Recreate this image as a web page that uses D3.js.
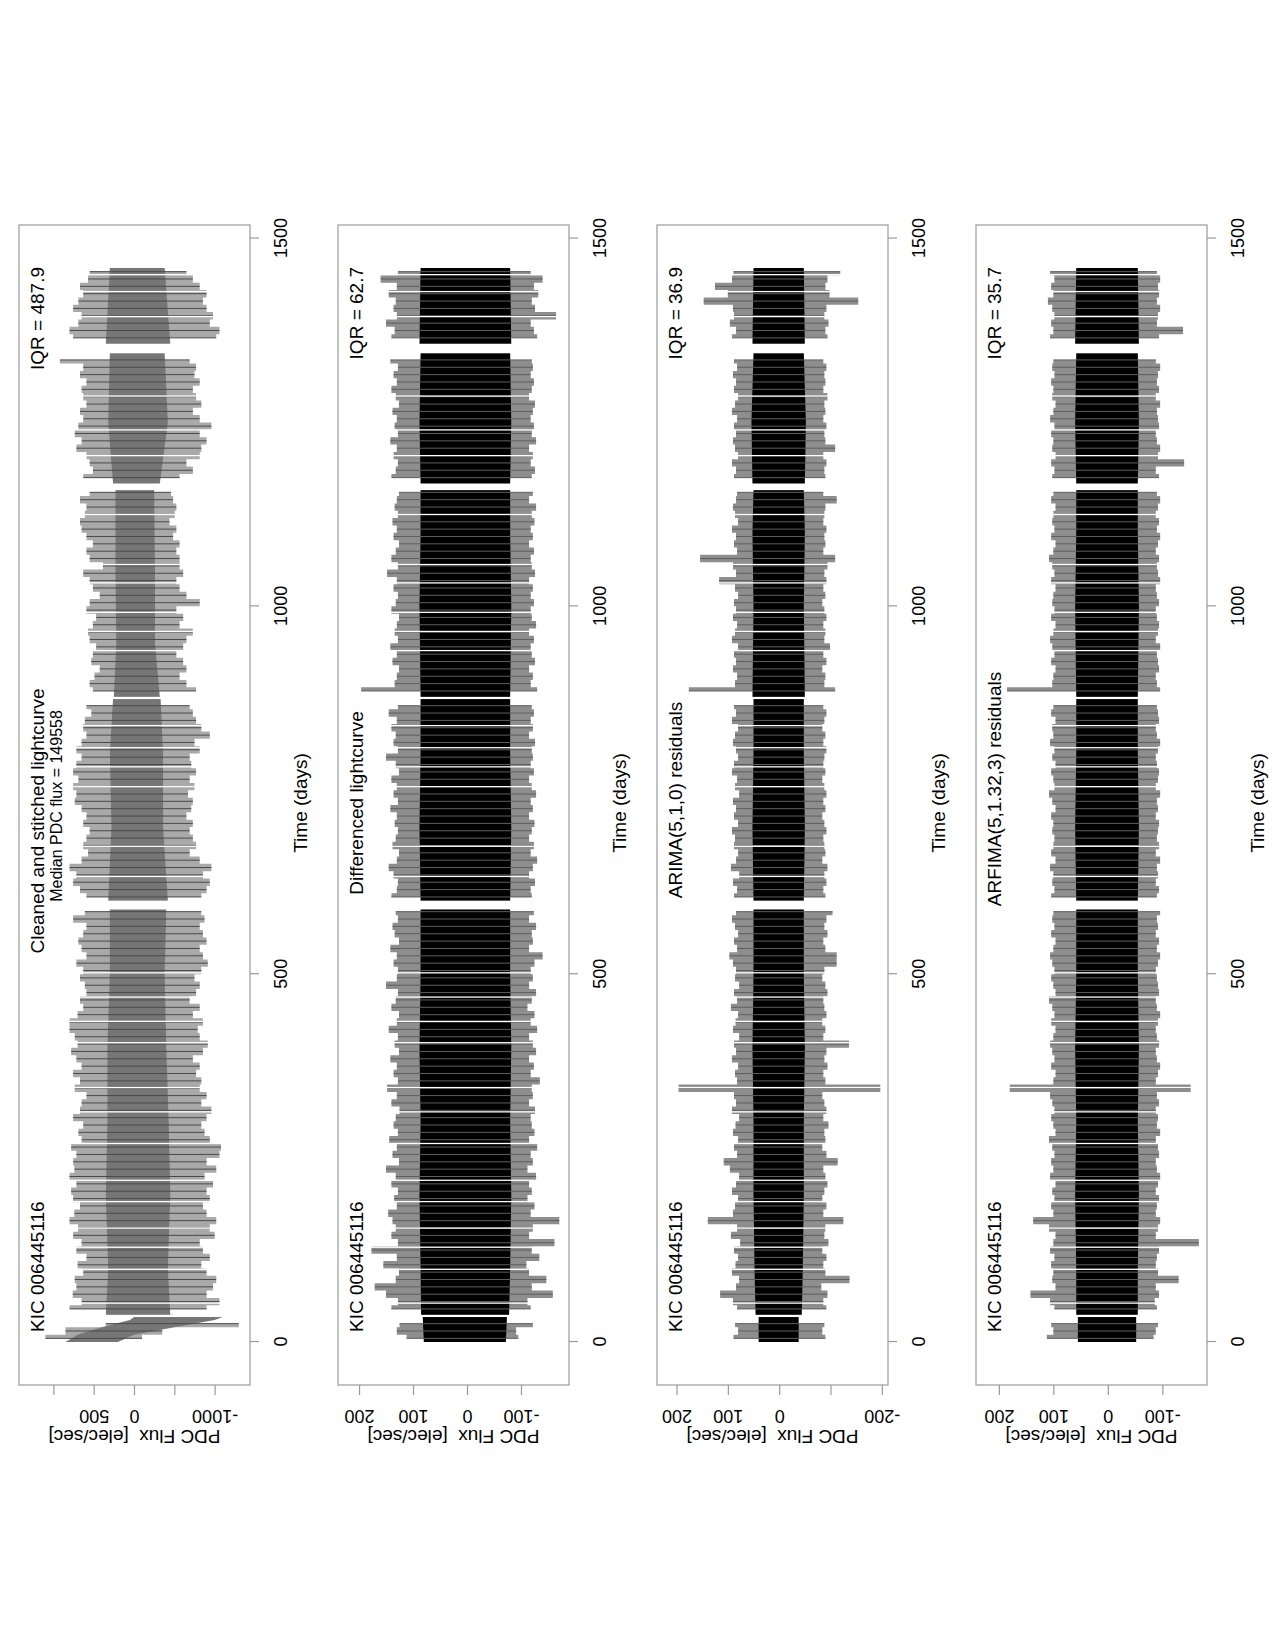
<!DOCTYPE html>
<html>
<head>
<meta charset="utf-8">
<script src="https://cdn.jsdelivr.net/npm/d3@7"></script>
<style>
  body { margin: 0; background: #fff; }
  svg text { font-family: "Liberation Sans", Arial, sans-serif; fill: #000; }
</style>
</head>
<body>
<svg id="chart" width="1275" height="1650"></svg>
<script>
// ---- data ----
// 10-day bins (bin centre in days); null = bin falls in a data gap
var binT = d3.range(5, 1460, 10);

// gaps in the time series (days)
var gapStart = [34, 52, 98, 128, 154, 190, 219, 269, 312, 345, 406, 435, 468, 501, 588, 632, 673, 754, 781, 807, 837, 874, 939, 965, 991, 1031, 1056, 1124, 1158, 1204, 1239, 1285, 1344, 1393, 1427, 1450];
var gapEnd   = [37, 53, 99, 129, 155, 191, 220, 270, 313, 346, 407, 436, 469, 502, 600, 633, 674, 755, 782, 808, 838, 877, 940, 966, 992, 1032, 1057, 1125, 1167, 1205, 1240, 1286, 1357, 1394, 1428, 1451];

// core (dense) band, sampled at these times
var coreT = [0, 34, 37, 100, 200, 300, 400, 500, 588, 600, 700, 800, 874, 877, 1000, 1100, 1158, 1167, 1250, 1344, 1357, 1460];

// panel 1 : cleaned and stitched lightcurve
var p1Hi = [1100, 850, 350, null, 800, 650, 760, 715, 735, 630,
  700, 590, 715, 650, 755, 695, 800, 740, 670, 755,
  780, 715, 800, 740, 755, 715, 780, 650, 690, 630,
  755, 670, 650, 590, 735, 670, 755, 650, 715, 780,
  700, 735, 800, 800, 700, 630, 670, 590, 610, 670,
  630, 715, 590, 650, 690, 630, 590, 755, 610, null,
  590, 670, 755, 715, 800, 650, 570, 630, 590, 550,
  630, 590, 650, 735, 715, 755, 690, 755, 715, 650,
  715, 650, 590, 630, 610, 530, 590, null, 510, 550,
  490, 425, 530, 510, 470, 550, 570, 510, 470, 590,
  550, 425, 510, 550, 630, 385, 550, 590, 510, 590,
  650, 670, 610, 590, 670, 550, null, 630, 510, 550,
  590, 715, 650, 735, 690, 630, 670, 590, 630, 650,
  590, 670, 630, 920, null, null, 755, 800, 690, 650,
  755, 690, 630, 670, 570, 550];
var p1Lo = [-100, -350, -1300, null, -900, -1060, -900, -980, -1020, -900,
  -835, -940, -855, -815, -1000, -940, -1020, -900, -855, -940,
  -900, -980, -875, -1020, -900, -1060, -1080, -940, -875, -835,
  -900, -960, -835, -900, -815, -835, -770, -815, -730, -855,
  -915, -815, -790, -855, -730, -815, -690, -770, -815, -750,
  -835, -915, -855, -815, -900, -855, -815, -875, -835, null,
  -835, -900, -940, -855, -960, -815, -690, -770, -730, -690,
  -730, -650, -710, -730, -670, -750, -690, -770, -710, -690,
  -815, -750, -940, -835, -770, -730, -690, null, -770, -650,
  -565, -650, -610, -525, -610, -650, -730, -565, -610, -525,
  -815, -650, -565, -525, -610, -565, -565, -525, -565, -485,
  -525, -440, -505, -525, -485, -460, null, -565, -730, -650,
  -815, -835, -900, -815, -960, -815, -730, -835, -770, -730,
  -815, -750, -770, -690, null, null, -1020, -1060, -940, -980,
  -900, -855, -900, -815, -730, -650];
var p1CoreT = [0, 10, 20, 30, 34, 37, 100, 200, 300, 400, 500, 588, 600, 700, 800, 874, 877, 950, 1050, 1158, 1167, 1250, 1344, 1357, 1460];
var p1CoreHi = [850, 700, 400, 50, 0, 350, 320, 350, 330, 330, 300, 300, 320, 280, 300, 260, 250, 220, 230, 230, 260, 320, 300, 350, 300];
var p1CoreLo = [200, 0, -500, -1000, -1100, -450, -420, -450, -430, -400, -380, -400, -420, -360, -360, -330, -320, -260, -260, -250, -320, -420, -380, -450, -380];

// panel 2 : differenced lightcurve
var p2Hi = [112, 130, 125, null, 140, 128, 150, 171, 132, 126,
  155, 130, 177, 128, 140, 132, 138, 146, 130, 135,
  128, 140, 132, 150, 126, 138, 130, 144, 128, 136,
  132, 125, 140, 130, 148, 128, 136, 130, 142, 126,
  134, 128, 145, 130, 126, 140, 132, 128, 150, 130,
  128, 136, 130, 142, 126, 134, 138, 128, 132, null,
  140, 130, 128, 136, 145, 130, 126, 138, 132, 128,
  134, 130, 142, 128, 136, 130, 140, 126, 132, 150,
  128, 136, 132, 140, 130, 145, 128, null, 196, 134,
  130, 126, 138, 130, 142, 128, 134, 130, 126, 140,
  132, 128, 136, 130, 148, 128, 140, 132, 126, 136,
  130, 138, 128, 134, 130, 126, null, 140, 132, 128,
  136, 130, 142, 128, 134, 130, 138, 126, 132, 140,
  130, 136, 128, 142, null, null, 140, 134, 150, 130,
  136, 132, 145, 130, 160, 128];
var p2Lo = [-95, -91, -122, null, -118, -112, -159, -120, -147, -115,
  -110, -134, -120, -162, -115, -122, -171, -118, -125, -112,
  -120, -115, -128, -112, -122, -118, -130, -115, -125, -120,
  -118, -126, -115, -122, -120, -135, -118, -124, -115, -128,
  -122, -115, -130, -118, -125, -112, -120, -128, -115, -122,
  -118, -125, -140, -115, -122, -120, -128, -115, -124, null,
  -120, -118, -126, -115, -122, -130, -118, -124, -115, -120,
  -125, -115, -122, -118, -128, -120, -115, -124, -118, -122,
  -120, -126, -115, -122, -118, -124, -120, null, -130, -118,
  -122, -115, -126, -120, -118, -124, -115, -128, -120, -118,
  -124, -118, -122, -115, -126, -120, -118, -124, -115, -122,
  -118, -125, -120, -128, -115, -122, null, -120, -126, -118,
  -122, -115, -128, -120, -124, -118, -122, -126, -115, -120,
  -124, -118, -122, -120, null, null, -130, -124, -118, -165,
  -126, -120, -132, -124, -140, -118];
var p2CoreHi = [80, 82, 85, 86, 88, 86, 88, 86, 86, 86, 88, 86, 86, 86, 88, 86, 86, 86, 88, 86, 88, 86];
var p2CoreLo = [-72, -74, -78, -80, -82, -80, -82, -80, -80, -80, -82, -80, -80, -80, -82, -80, -80, -80, -82, -80, -82, -80];

// panel 3 : ARIMA(5,1,0) residuals
var p3Hi = [89, 80, 86, null, 82, 90, 115, 84, 78, 92,
  85, 80, 88, 76, 94, 82, 139, 90, 86, 80,
  92, 84, 78, 96, 108, 82, 88, 80, 90, 85,
  78, 92, 84, 88, 196, 82, 86, 80, 92, 84,
  88, 78, 90, 85, 80, 94, 82, 88, 78, 86,
  84, 90, 97, 82, 88, 80, 86, 92, 84, null,
  88, 82, 90, 78, 94, 84, 80, 88, 86, 92,
  80, 88, 84, 90, 78, 86, 82, 92, 88, 80,
  84, 90, 86, 80, 92, 84, 88, null, 176, 86,
  82, 90, 84, 88, 80, 92, 86, 82, 90, 84,
  88, 80, 86, 117, 84, 90, 154, 82, 88, 84,
  92, 80, 86, 90, 84, 82, null, 88, 84, 92,
  80, 86, 90, 84, 88, 82, 92, 86, 80, 88,
  84, 90, 82, 88, null, null, 92, 84, 96, 88,
  90, 147, 100, 125, 92, 89];
var p3Lo = [-90, -84, -88, null, -92, -86, -94, -82, -137, -90,
  -86, -92, -84, -96, -88, -90, -125, -86, -92, -84,
  -88, -94, -90, -86, -114, -92, -84, -90, -88, -96,
  -86, -92, -88, -84, -197, -90, -86, -94, -88, -92,
  -136, -86, -90, -84, -92, -88, -86, -94, -90, -84,
  -88, -112, -112, -90, -86, -94, -88, -92, -104, null,
  -90, -86, -92, -88, -94, -84, -90, -88, -86, -92,
  -88, -84, -90, -86, -92, -88, -84, -90, -86, -88,
  -92, -86, -90, -84, -88, -92, -86, null, -109, -88,
  -90, -84, -92, -86, -99, -88, -90, -86, -92, -88,
  -84, -90, -86, -92, -88, -94, -109, -86, -90, -88,
  -92, -86, -88, -90, -112, -86, null, -90, -88, -92,
  -86, -109, -90, -88, -92, -86, -90, -88, -94, -86,
  -90, -88, -92, -86, null, null, -94, -90, -96, -88,
  -92, -154, -98, -90, -94, -119];
var p3CoreHi = [40, 40, 46, 48, 50, 50, 52, 50, 50, 50, 52, 50, 50, 52, 50, 52, 50, 52, 54, 50, 52, 50];
var p3CoreLo = [-38, -38, -44, -46, -48, -48, -50, -48, -48, -48, -50, -48, -48, -50, -48, -50, -48, -50, -52, -48, -50, -48];

// panel 4 : ARFIMA(5,1.32,3) residuals
var p4Hi = [112, 100, 104, null, 98, 106, 142, 96, 102, 100,
  104, 98, 106, 100, 96, 108, 137, 100, 104, 98,
  102, 96, 106, 100, 104, 98, 102, 108, 96, 100,
  104, 98, 102, 106, 180, 100, 96, 104, 98, 102,
  106, 100, 96, 104, 98, 102, 108, 96, 100, 104,
  98, 102, 106, 100, 96, 104, 98, 102, 100, null,
  104, 98, 102, 100, 106, 96, 104, 100, 98, 102,
  100, 104, 96, 102, 108, 98, 100, 104, 96, 102,
  98, 106, 100, 102, 96, 104, 100, null, 185, 102,
  100, 96, 104, 98, 102, 106, 100, 96, 104, 98,
  102, 100, 96, 104, 98, 102, 108, 100, 96, 104,
  98, 102, 100, 96, 104, 100, null, 102, 98, 104,
  96, 102, 100, 104, 98, 106, 100, 96, 102, 100,
  104, 98, 102, 100, null, null, 106, 100, 104, 98,
  102, 110, 100, 104, 98, 106];
var p4Lo = [-84, -88, -92, null, -90, -86, -94, -88, -130, -92,
  -88, -90, -94, -167, -88, -92, -96, -88, -90, -94,
  -88, -92, -96, -90, -88, -94, -92, -88, -96, -90,
  -92, -88, -94, -90, -152, -88, -92, -96, -90, -88,
  -94, -90, -88, -92, -96, -90, -88, -94, -92, -90,
  -88, -92, -96, -90, -94, -88, -92, -90, -96, null,
  -90, -94, -88, -92, -90, -96, -88, -94, -90, -92,
  -94, -88, -92, -90, -96, -88, -92, -94, -90, -88,
  -92, -96, -90, -88, -94, -92, -90, null, -96, -90,
  -88, -94, -92, -90, -96, -88, -92, -94, -90, -88,
  -94, -90, -88, -96, -92, -90, -94, -88, -92, -96,
  -90, -94, -88, -92, -96, -90, null, -94, -88, -140,
  -92, -96, -90, -88, -94, -92, -90, -96, -88, -94,
  -90, -92, -96, -88, null, null, -94, -138, -90, -92,
  -96, -90, -94, -92, -96, -90];
var p4CoreHi = [55, 55, 58, 58, 60, 58, 60, 58, 58, 58, 60, 58, 58, 58, 60, 58, 58, 58, 60, 58, 60, 58];
var p4CoreLo = [-52, -52, -55, -55, -57, -55, -57, -55, -55, -55, -57, -55, -55, -55, -57, -55, -55, -55, -57, -55, -57, -55];

// axis ticks and labels
var timeTicks = [0, 500, 1000, 1500];
var p1Ticks = [1000, 500, 0, -500, -1000];
var p1TickLabels = ["", "500", "0", "", "-1000"];
var p2Ticks = [200, 100, 0, -100];
var p2TickLabels = ["200", "100", "0", "-100"];
var p3Ticks = [200, 100, 0, -100, -200];
var p3TickLabels = ["200", "100", "0", "", "-200"];
var p4Ticks = [200, 100, 0, -100];
var p4TickLabels = ["200", "100", "0", "-100"];

var ctx = {
    boxBottom: 1385,
    W: 1160,   // box length along time (drawn vertically on the page)
    H: 231,    // box depth along flux
    BOX: "#9a9a9a",
    FONT: "Liberation Sans, Arial, sans-serif"
};

var panels = [
    { left: 19, hi: p1Hi, lo: p1Lo, coreT: p1CoreT, coreHi: p1CoreHi, coreLo: p1CoreLo,
      domain: [-1439, 1427], ticks: p1Ticks, labels: p1TickLabels,
      title: "Cleaned and stitched lightcurve", sub: "Median PDC flux = 149558", titleU: 564,
      iqr: "IQR = 487.9", envFill: "#a9a9a9", coreFill: "#767676", spike: "#4a4a4a" },
    { left: 338, hi: p2Hi, lo: p2Lo, coreT: coreT, coreHi: p2CoreHi, coreLo: p2CoreLo,
      domain: [-189, 239], ticks: p2Ticks, labels: p2TickLabels,
      title: "Differenced lightcurve", titleU: 582,
      iqr: "IQR = 62.7", envFill: "#8e8e8e", coreFill: "#000", spike: "#5e5e5e" },
    { left: 657, hi: p3Hi, lo: p3Lo, coreT: coreT, coreHi: p3CoreHi, coreLo: p3CoreLo,
      domain: [-212, 238], ticks: p3Ticks, labels: p3TickLabels,
      title: "ARIMA(5,1,0) residuals", titleU: 585,
      iqr: "IQR = 36.9", envFill: "#8e8e8e", coreFill: "#000", spike: "#5e5e5e" },
    { left: 976, hi: p4Hi, lo: p4Lo, coreT: coreT, coreHi: p4CoreHi, coreLo: p4CoreLo,
      domain: [-182, 242], ticks: p4Ticks, labels: p4TickLabels,
      title: "ARFIMA(5,1.32,3) residuals", titleU: 596,
      iqr: "IQR = 35.7", envFill: "#8e8e8e", coreFill: "#000", spike: "#5e5e5e" }
];

var svg = d3.select("#chart");

// time runs along the local x, the whole plot is turned a quarter turn
var timeScale = d3.scaleLinear().domain([-58.4, 1518.4]).range([0, ctx.W]);

panels.forEach(function(p) {
    var g = svg.append("g")
        .attr("transform", "translate(" + p.left + "," + ctx.boxBottom + ") rotate(-90)");
    var fluxScale = d3.scaleLinear().domain(p.domain).range([ctx.H, 0]);

    var bins = binT.map(function(t, i) { return { t: t, hi: p.hi[i], lo: p.lo[i] }; });
    var core = p.coreT.map(function(t, i) { return { t: t, hi: p.coreHi[i], lo: p.coreLo[i] }; });

    var dataG = g.append("g");

    // outer envelope, stepped so each bin reads as a run of strokes
    dataG.append("path")
        .datum(bins)
        .attr("fill", p.envFill)
        .attr("d", d3.area()
            .defined(function(d) { return d.hi != null; })
            .curve(d3.curveStep)
            .x(function(d) { return timeScale(d.t); })
            .y0(function(d) { return fluxScale(d.lo); })
            .y1(function(d) { return fluxScale(d.hi); }));

    // dense core
    dataG.append("path")
        .datum(core)
        .attr("fill", p.coreFill)
        .attr("d", d3.area()
            .x(function(d) { return timeScale(d.t); })
            .y0(function(d) { return fluxScale(d.lo); })
            .y1(function(d) { return fluxScale(d.hi); }));

    // spikes
    dataG.selectAll("line.spike")
        .data(bins.filter(function(d) { return d.hi != null; }))
        .enter()
        .append("line")
        .attr("class", "spike")
        .attr("x1", function(d) { return timeScale(d.t); })
        .attr("x2", function(d) { return timeScale(d.t); })
        .attr("y1", function(d) { return fluxScale(d.lo); })
        .attr("y2", function(d) { return fluxScale(d.hi); })
        .attr("stroke", p.spike)
        .attr("stroke-width", 1);

    // data gaps
    dataG.selectAll("rect.gap")
        .data(gapStart)
        .enter()
        .append("rect")
        .attr("class", "gap")
        .attr("x", function(d) { return timeScale(d); })
        .attr("width", function(d, i) { return Math.max(timeScale(gapEnd[i]) - timeScale(d), 1.3); })
        .attr("y", 1)
        .attr("height", ctx.H - 2)
        .attr("fill", "#fff");

    // box
    g.append("rect")
        .attr("x", 0).attr("y", 0)
        .attr("width", ctx.W).attr("height", ctx.H)
        .attr("fill", "none")
        .attr("stroke", ctx.BOX)
        .attr("stroke-width", 1.2);

    // time axis
    var tAxis = g.append("g")
        .attr("transform", "translate(0," + ctx.H + ")")
        .call(d3.axisBottom(timeScale).tickValues(timeTicks).tickSize(9).tickPadding(15)
            .tickFormat(d3.format("d")));
    tAxis.select(".domain").remove();
    tAxis.selectAll("line").attr("stroke", ctx.BOX).attr("stroke-width", 1.2);
    tAxis.selectAll("text").attr("font-size", "18px").style("font-family", ctx.FONT);

    // flux axis, labels parallel to the axis
    var fAxis = g.append("g")
        .call(d3.axisLeft(fluxScale).tickValues(p.ticks).tickSize(10)
            .tickFormat(function(d, i) { return p.labels[i]; }));
    fAxis.select(".domain").remove();
    fAxis.selectAll("line").attr("stroke", ctx.BOX).attr("stroke-width", 1.2);
    fAxis.selectAll("text")
        .attr("x", null).attr("dy", null)
        .attr("text-anchor", "middle")
        .attr("transform", "translate(-25,0) rotate(-90)")
        .attr("font-size", "18px")
        .style("font-family", ctx.FONT);

    g.append("text")
        .attr("transform", "translate(-45," + (ctx.H / 2) + ") rotate(-90)")
        .attr("text-anchor", "middle")
        .attr("font-size", "19px")
        .style("white-space", "pre")
        .text("PDC Flux  [elec/sec]");

    g.append("text")
        .attr("x", ctx.W / 2 + 2).attr("y", ctx.H + 57)
        .attr("text-anchor", "middle")
        .attr("font-size", "19px")
        .text("Time (days)");

    // labels inside the box
    g.append("text")
        .attr("x", 53).attr("y", 25)
        .attr("font-size", "19px")
        .text("KIC 006445116");
    g.append("text")
        .attr("x", 1118).attr("y", 25)
        .attr("text-anchor", "end")
        .attr("font-size", "19px")
        .text(p.iqr);
    g.append("text")
        .attr("x", p.titleU).attr("y", 25)
        .attr("text-anchor", "middle")
        .attr("font-size", "19px")
        .text(p.title);
    if (p.sub) {
        g.append("text")
            .attr("x", 579).attr("y", 43)
            .attr("text-anchor", "middle")
            .attr("font-size", "16px")
            .text(p.sub);
    }
});
</script>
</body>
</html>
